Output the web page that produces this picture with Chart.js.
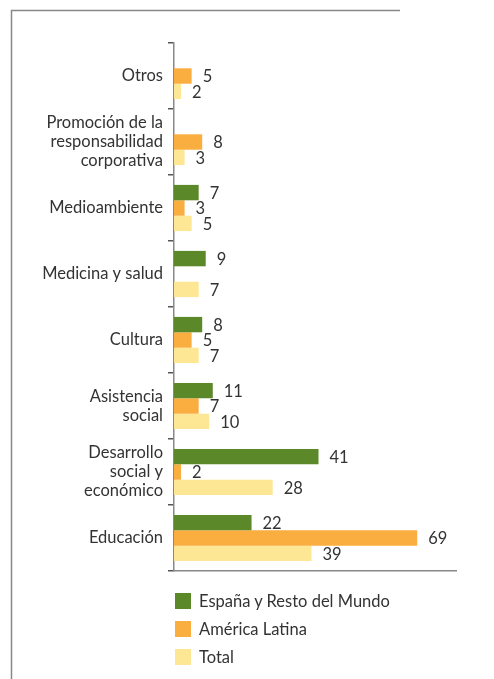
<!DOCTYPE html>
<html>
<head>
<meta charset="utf-8">
<script src="https://cdn.jsdelivr.net/npm/chart.js@4.4.0/dist/chart.umd.min.js"></script>
<style>
  html, body { margin: 0; padding: 0; background: #fff; }
  #wrap { position: relative; width: 494px; height: 679px; }
  #legend { position: absolute; left: 175px; top: 587px; font-family: Lato, sans-serif; font-size: 16.5px; color: #333; }
  #legend div { display: flex; align-items: center; height: 28px; }
  #legend span.box { display: inline-block; width: 16px; height: 16px; margin-right: 8px; }
</style>
</head>
<body>
<div id="wrap">
  <canvas id="chart" width="494" height="679"></canvas>
  <div id="legend"></div>
</div>
<script>
// Data
const categories = [
  'Otros',
  ['Promoción de la', 'responsabilidad', 'corporativa'],
  'Medioambiente',
  'Medicina y salud',
  'Cultura',
  ['Asistencia', 'social'],
  ['Desarrollo', 'social y', 'económico'],
  'Educación'
];
const espana = [0, 0, 7, 9, 8, 11, 41, 22];
const americaLatina = [5, 8, 3, 0, 5, 7, 2, 69];
const total = [2, 3, 5, 7, 7, 10, 28, 39];
const seriesNames = ['España y Resto del Mundo', 'América Latina', 'Total'];
const seriesColors = ['#5b8829', '#fbae40', '#fde794'];

const FONT = 'Lato, sans-serif';

// frame lines around the figure
const framePlugin = {
  id: 'frame',
  beforeDraw(chart) {
    const ctx = chart.ctx;
    ctx.save();
    ctx.strokeStyle = '#888';
    ctx.lineWidth = 1.5;
    ctx.beginPath();
    ctx.moveTo(400, 10.5);
    ctx.lineTo(11.5, 10.5);
    ctx.lineTo(11.5, 679);
    ctx.stroke();
    ctx.restore();
  }
};

// value labels at the end of each bar
const valueLabels = {
  id: 'valueLabels',
  afterDatasetsDraw(chart) {
    const ctx = chart.ctx;
    ctx.save();
    ctx.font = '16.5px ' + FONT;
    ctx.fillStyle = '#333';
    ctx.textAlign = 'left';
    ctx.textBaseline = 'middle';
    chart.data.datasets.forEach((ds, i) => {
      chart.getDatasetMeta(i).data.forEach((bar, j) => {
        const v = ds.data[j];
        if (!v) return;
        ctx.fillText(v, bar.x + 11, bar.y + 1);
      });
    });
    ctx.restore();
  }
};

const chart = new Chart(document.getElementById('chart'), {
  type: 'bar',
  data: {
    labels: categories,
    datasets: [espana, americaLatina, total].map((d, i) => ({
      label: seriesNames[i],
      data: d,
      backgroundColor: seriesColors[i],
      categoryPercentage: 0.7,
      barPercentage: 1.0
    }))
  },
  options: {
    indexAxis: 'y',
    responsive: false,
    animation: false,
    layout: { padding: { top: 43, right: 38, bottom: 108, left: 0 } },
    plugins: { legend: { display: false }, tooltip: { enabled: false } },
    scales: {
      x: {
        min: 0,
        max: 80,
        ticks: { display: false },
        grid: { display: false, drawTicks: false },
        border: { display: true, color: '#888', width: 1.5 },
        afterFit(scale) { scale.height = 0; }
      },
      y: {
        grid: { offset: true, drawOnChartArea: false, drawTicks: true, tickLength: 6, color: '#555', lineWidth: 1.5 },
        border: { display: true, color: '#888', width: 1.5 },
        ticks: { color: '#333', font: { family: FONT, size: 16.5, lineHeight: 1.15 }, padding: 5 },
        afterFit(scale) { scale.width = 174; }
      }
    }
  },
  plugins: [framePlugin, valueLabels]
});

// legend, stacked vertically
const legend = document.getElementById('legend');
seriesNames.forEach((name, i) => {
  const row = document.createElement('div');
  row.innerHTML = '<span class="box" style="background:' + seriesColors[i] + '"></span>' + name;
  legend.appendChild(row);
});
</script>
</body>
</html>
